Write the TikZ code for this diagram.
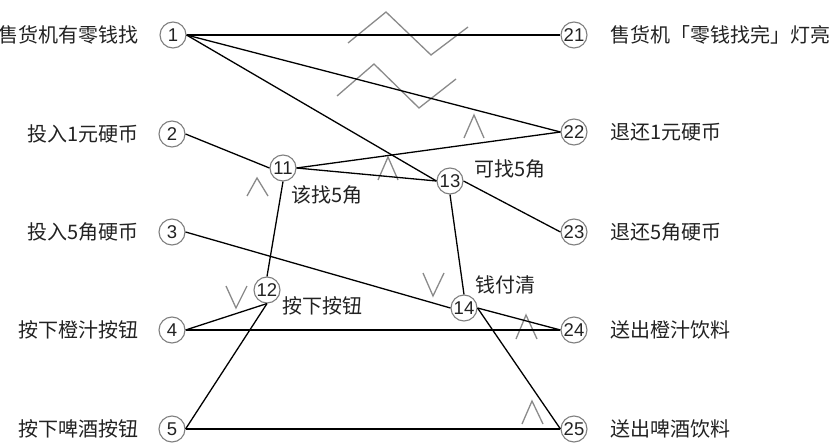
\documentclass[tikz,border=0pt]{standalone}
\usepackage{fontspec}
\newfontfamily\cjk{Noto Sans CJK SC}
\newfontfamily\numfont{Liberation Sans}
\definecolor{circgray}{HTML}{808080}
\definecolor{markgray}{HTML}{8A8A8A}
\definecolor{txt}{HTML}{222222}
\begin{document}
\begin{tikzpicture}[x=1pt,y=-1pt,
  cnode/.style={circle,draw=circgray,line width=1.1pt,fill=white,minimum size=26pt,inner sep=0pt,font=\numfont\fontsize{18.5}{19}\selectfont,text=txt},
  lbl/.style={inner sep=0pt,font=\cjk\fontsize{20}{22}\selectfont,text=txt},
  edge/.style={draw=black,line width=1.3pt},
  cmark/.style={draw=markgray,line width=1.3pt}]
\useasboundingbox (0,0) rectangle (830,444);
% constraint marks
\draw[cmark] (348,43) -- (386,12) -- (431,55) -- (468,27);
\draw[cmark] (337,96) -- (374,64) -- (419,108) -- (456,79);
\draw[cmark] (464,138) -- (474,115) -- (484,138);
\draw[cmark] (247,196) -- (257,178) -- (268,196);
\draw[cmark] (378,180) -- (388,157) -- (398,180);
\draw[cmark] (226,286) -- (236,308) -- (247,286);
\draw[cmark] (423,273) -- (433,296) -- (444,273);
\draw[cmark] (516,339) -- (526,315) -- (537,339);
\draw[cmark] (522,424) -- (532,401) -- (543,424);
% nodes
\node[cnode] (n1) at (173,35) {1};
\node[cnode] (n2) at (172,134) {2};
\node[cnode] (n3) at (172,232) {3};
\node[cnode] (n4) at (172,330) {4};
\node[cnode] (n5) at (172,429) {5};
\node[cnode] (n21) at (574,35) {21};
\node[cnode] (n22) at (574,132) {22};
\node[cnode] (n23) at (574,232) {23};
\node[cnode] (n24) at (574,330) {24};
\node[cnode] (n25) at (574,429) {25};
\node[cnode] (n11) at (283,168) {11};
\node[cnode] (n12) at (267,290) {12};
\node[cnode] (n13) at (450,181) {13};
\node[cnode] (n14) at (464,308) {14};
% edges
\draw[edge] (n1.east) -- (n21.west);
\draw[edge] (n1.east) -- (n22.west);
\draw[edge] (n1.east) -- (n13.west);
\draw[edge] (n2.east) -- (n11.west);
\draw[edge] (n11.east) -- (n22.west);
\draw[edge] (n11.east) -- (n13.west);
\draw[edge] (n11.south) -- (n12.north);
\draw[edge] (n13.east) -- (n23.west);
\draw[edge] (n13.south) -- (n14.north);
\draw[edge] (n3.east) -- (n14.west);
\draw[edge] (n4.east) -- (n12.south);
\draw[edge] (n5.east) -- (n12.south);
\draw[edge] (n4.east) -- (n24.west);
\draw[edge] (n5.east) -- (n25.west);
\draw[edge] (n14.east) -- (n24.west);
\draw[edge] (n14.east) -- (n25.west);
% labels
\node[lbl,anchor=east] (l1) at (139,35) {售货机有零钱找};
\node[lbl,anchor=east] (l2) at (139,134) {投入1元硬币};
\node[lbl,anchor=east] (l3) at (139,232) {投入5角硬币};
\node[lbl,anchor=east] (l4) at (139,330) {按下橙汁按钮};
\node[lbl,anchor=east] (l5) at (139,429) {按下啤酒按钮};
\node[lbl,anchor=west] (l21) at (610,35) {售货机「零钱找完」灯亮};
\node[lbl,anchor=west] (l22) at (610,132) {退还1元硬币};
\node[lbl,anchor=west] (l23) at (610,232) {退还5角硬币};
\node[lbl,anchor=west] (l24) at (610,330) {送出橙汁饮料};
\node[lbl,anchor=west] (l25) at (610,429) {送出啤酒饮料};
\node[lbl,anchor=west] (l11) at (291,195) {该找5角};
\node[lbl,anchor=west] (l13) at (474,169) {可找5角};
\node[lbl,anchor=west] (l12) at (282,306) {按下按钮};
\node[lbl,anchor=west] (l14) at (475,285) {钱付清};
\end{tikzpicture}
\end{document}
